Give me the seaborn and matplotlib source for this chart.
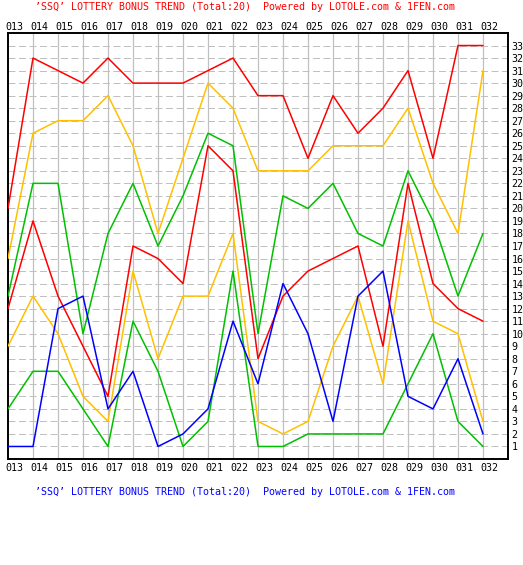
import numpy as np
import pandas as pd
import seaborn as sns
import matplotlib.pyplot as plt
import matplotlib.transforms as mtransforms

# draw labels (issue numbers)
issues = ['013', '014', '015', '016', '017', '018', '019', '020', '021', '022',
          '023', '024', '025', '026', '027', '028', '029', '030', '031', '032']

# six red balls sorted, plus the blue (bonus) ball
red_6 = [20, 32, 31, 30, 32, 30, 30, 30, 31, 32, 29, 29, 24, 29, 26, 28, 31, 24, 33, 33]
red_5 = [16, 26, 27, 27, 29, 25, 18, 24, 30, 28, 23, 23, 23, 25, 25, 25, 28, 22, 18, 31]
red_4 = [13, 22, 22, 10, 18, 22, 17, 21, 26, 25, 10, 21, 20, 22, 18, 17, 23, 19, 13, 18]
red_3 = [12, 19, 13, 9, 5, 17, 16, 14, 25, 23, 8, 13, 15, 16, 17, 9, 22, 14, 12, 11]
red_2 = [9, 13, 10, 5, 3, 15, 8, 13, 13, 18, 3, 2, 3, 9, 13, 6, 19, 11, 10, 3]
red_1 = [4, 7, 7, 4, 1, 11, 7, 1, 3, 15, 1, 1, 2, 2, 2, 2, 6, 10, 3, 1]
blue = [1, 1, 12, 13, 4, 7, 1, 2, 4, 11, 6, 14, 10, 3, 13, 15, 5, 4, 8, 2]

series = {'r6': red_6, 'r5': red_5, 'r4': red_4, 'r3': red_3,
          'r2': red_2, 'r1': red_1, 'blue': blue}
colors = {'r6': '#ff0000', 'r5': '#ffc000', 'r4': '#00c000', 'r3': '#ff0000',
          'r2': '#ffc000', 'r1': '#00c000', 'blue': '#0000ff'}

rows = []
for name, vals in series.items():
    for i, v in enumerate(vals):
        rows.append({'pos': i, 'val': v, 'ball': name})
df = pd.DataFrame(rows)

sns.set_style("white")
plt.rcParams['font.family'] = ['DejaVu Sans Mono', 'DejaVu Sans']
fs = 7.2

fig = plt.figure(figsize=(5.23, 5.65), dpi=100)
ax = fig.add_axes([8 / 523, 1 - 459 / 565, 500 / 523, 426 / 565])

# grid first so lines sit on top
for x in range(1, 20):
    ax.axvline(x, color='#c0c0c0', lw=0.9, zorder=1)
for y in range(1, 34):
    ax.axhline(y, color='#c0c0c0', lw=0.72, ls=(0, (7, 3.5)), zorder=1)

sns.lineplot(data=df, x='pos', y='val', hue='ball', palette=colors,
             hue_order=list(series.keys()), lw=1.1, legend=False, ax=ax,
             zorder=3)

ax.set_xlim(0, 20)
ax.set_ylim(0, 34)
ax.set_xlabel('')
ax.set_ylabel('')
ax.set_xticks(range(20))
ax.set_xticklabels(issues)
ax.set_yticks(range(1, 34))
ax.yaxis.tick_right()
ax.tick_params(axis='x', length=0, labeltop=True, labelbottom=True,
               labelsize=fs, colors='black')
ax.tick_params(axis='x', which='major', pad=3)
ax.tick_params(axis='y', length=0, pad=2.5, labelsize=fs, colors='black')
for s in ax.spines.values():
    s.set_color('black')
    s.set_linewidth(1.4)
    s.set_visible(True)

off_bottom = mtransforms.ScaledTranslation(-3 / 100, 0, fig.dpi_scale_trans)
off_top = mtransforms.ScaledTranslation(-3 / 100, -3 / 100, fig.dpi_scale_trans)
for tick in ax.xaxis.get_major_ticks():
    tick.label1.set_horizontalalignment('left')
    tick.label1.set_transform(tick.label1.get_transform() + off_bottom)
    tick.label2.set_horizontalalignment('left')
    tick.label2.set_transform(tick.label2.get_transform() + off_top)

caption = "\u2019SSQ\u2019 LOTTERY BONUS TREND (Total:20)  Powered by LOTOLE.com & 1FEN.com"
fig.text(35 / 523, 1 - 7 / 565, caption, color='#ff0000', fontsize=fs,
         ha='left', va='center')
fig.text(35 / 523, 1 - 492 / 565, caption, color='#0000ff', fontsize=fs,
         ha='left', va='center')

fig.savefig('out.png', dpi=100, facecolor='white')
